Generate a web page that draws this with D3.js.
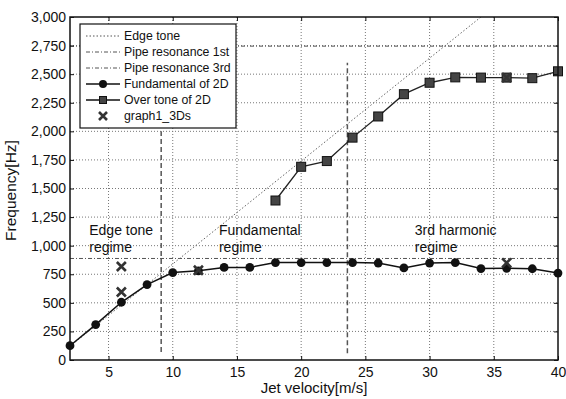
<!DOCTYPE html>
<html>
<head>
<meta charset="utf-8">
<script src="https://cdn.jsdelivr.net/npm/d3@7"></script>
<style>
  body { margin: 0; background: #fff; }
  svg text { font-family: "Liberation Sans", Arial, sans-serif; fill: #111; }
</style>
</head>
<body>
<div id="chart"></div>
<script>
// data
const velocity = [2, 4, 6, 8, 10, 12, 14, 16, 18, 20, 22, 24, 26, 28, 30, 32, 34, 36, 38, 40];
const fundamental = [125, 310, 505, 660, 765, 780, 810, 810, 852, 852, 852, 852, 848, 805, 848, 852, 800, 802, 798, 760];
const overVelocity = [18, 20, 22, 24, 26, 28, 30, 32, 34, 36, 38, 40];
const overtone = [1395, 1690, 1740, 1945, 2130, 2325, 2425, 2472, 2470, 2470, 2465, 2525];
const xVelocity = [6, 6, 12, 36, 36];
const xFreq = [818, 595, 785, 2470, 850];
const edgeVelocity = [2, 34];
const edgeFreq = [120, 3000];
const pipe1st = 888;
const pipe3rd = 2745;
const regimeBounds = [{v: 9.1, from: 70, to: 2000}, {v: 23.6, from: 60, to: 2600}];
const regimeLabels = [
  {v: 3.5, lines: ["Edge tone", "regime"]},
  {v: 13.6, lines: ["Fundamental", "regime"]},
  {v: 28.85, lines: ["3rd harmonic", "regime"]}
];
const xTicks = [5, 10, 15, 20, 25, 30, 35, 40];
const yTicks = d3.range(0, 3001, 250);
const legendItems = ["Edge tone", "Pipe resonance 1st", "Pipe resonance 3rd", "Fundamental of 2D", "Over tone of 2D", "graph1_3Ds"];

const W = 566, H = 399;
const margin = {top: 17, right: 8, bottom: 39, left: 70};

const svg = d3.select("#chart").append("svg")
    .attr("width", W)
    .attr("height", H);

const x = d3.scaleLinear().domain([2, 40]).range([margin.left, W - margin.right]);
const y = d3.scaleLinear().domain([0, 3000]).range([H - margin.bottom, margin.top]);
const line = d3.line().x(d => x(d[0])).y(d => y(d[1]));

// grid
svg.append("g").selectAll("line.gy")
    .data(yTicks.slice(1, -1))
    .enter().append("line")
    .attr("x1", x(2)).attr("x2", x(40))
    .attr("y1", d => y(d)).attr("y2", d => y(d))
    .attr("stroke", "#777").attr("stroke-width", 1)
    .attr("stroke-dasharray", "1,2");

svg.append("g").selectAll("line.gx")
    .data(xTicks.slice(0, -1))
    .enter().append("line")
    .attr("x1", d => x(d)).attr("x2", d => x(d))
    .attr("y1", y(0)).attr("y2", y(3000))
    .attr("stroke", "#777").attr("stroke-width", 1)
    .attr("stroke-dasharray", "1,2");

// pipe resonance lines
[pipe1st, pipe3rd].forEach(function (f) {
    svg.append("line")
        .attr("x1", x(2)).attr("x2", x(40))
        .attr("y1", y(f)).attr("y2", y(f))
        .attr("stroke", "#555").attr("stroke-width", 1)
        .attr("stroke-dasharray", "4,2,1,2");
});

// edge tone
svg.append("clipPath").attr("id", "plotclip").append("rect")
    .attr("x", x(2)).attr("y", y(3000))
    .attr("width", x(40) - x(2)).attr("height", y(0) - y(3000));

svg.append("path")
    .datum(edgeVelocity.map((v, i) => [v, edgeFreq[i]]))
    .attr("clip-path", "url(#plotclip)")
    .attr("fill", "none")
    .attr("stroke", "#666").attr("stroke-width", 1)
    .attr("stroke-dasharray", "1.5,2")
    .attr("d", line);

// regime boundaries
svg.append("g").selectAll("line")
    .data(regimeBounds)
    .enter().append("line")
    .attr("x1", d => x(d.v)).attr("x2", d => x(d.v))
    .attr("y1", d => y(d.from)).attr("y2", d => y(d.to))
    .attr("stroke", "#555").attr("stroke-width", 1.5)
    .attr("stroke-dasharray", "5,3");

// regime labels
regimeLabels.forEach(function (r) {
    const t = svg.append("text")
        .attr("x", x(r.v))
        .attr("y", 235)
        .style("font-size", "14px");
    r.lines.forEach(function (s, i) {
        t.append("tspan").attr("x", x(r.v)).attr("dy", i === 0 ? 0 : 17).text(s);
    });
});

// overtone series
const overData = overVelocity.map((v, i) => [v, overtone[i]]);
svg.append("path").datum(overData)
    .attr("fill", "none").attr("stroke", "#222").attr("stroke-width", 1.3)
    .attr("d", line);

// fundamental series
const fundData = velocity.map((v, i) => [v, fundamental[i]]);
svg.append("path").datum(fundData)
    .attr("fill", "none").attr("stroke", "#111").attr("stroke-width", 1.5)
    .attr("d", line);

svg.append("g").selectAll("rect")
    .data(overData)
    .enter().append("rect")
    .attr("x", d => x(d[0]) - 4.5).attr("y", d => y(d[1]) - 4.5)
    .attr("width", 9).attr("height", 9)
    .attr("fill", "#444").attr("stroke", "#111").attr("stroke-width", 1);

svg.append("g").selectAll("circle")
    .data(fundData)
    .enter().append("circle")
    .attr("cx", d => x(d[0])).attr("cy", d => y(d[1]))
    .attr("r", 4.4)
    .attr("fill", "#111");

// X markers
function cross(g, cx, cy, s) {
    g.append("path")
        .attr("d", "M" + (cx - s) + "," + (cy - s) + "L" + (cx + s) + "," + (cy + s) +
            "M" + (cx - s) + "," + (cy + s) + "L" + (cx + s) + "," + (cy - s))
        .attr("stroke", "#333").attr("stroke-width", 2.6).attr("fill", "none");
}
const xg = svg.append("g");
xVelocity.forEach(function (v, i) { cross(xg, x(v), y(xFreq[i]), 4.5); });

// frame and ticks
svg.append("rect")
    .attr("x", x(2)).attr("y", y(3000))
    .attr("width", x(40) - x(2)).attr("height", y(0) - y(3000))
    .attr("fill", "none").attr("stroke", "#111").attr("stroke-width", 1.5);

svg.append("g")
    .attr("transform", "translate(0," + y(0) + ")")
    .call(d3.axisBottom(x).tickValues(xTicks).tickSizeInner(-4).tickSizeOuter(0).tickPadding(7))
    .call(g => g.select(".domain").remove())
    .selectAll("text").style("font-size", "14px").attr("fill", "#111");

svg.append("g")
    .attr("transform", "translate(0," + y(3000) + ")")
    .call(d3.axisTop(x).tickValues(xTicks).tickSizeInner(-4).tickSizeOuter(0).tickFormat(""))
    .call(g => g.select(".domain").remove());

svg.append("g")
    .attr("transform", "translate(" + x(2) + ",0)")
    .call(d3.axisLeft(y).tickValues(yTicks).tickSizeInner(-4).tickSizeOuter(0).tickPadding(4)
        .tickFormat(d3.format(",")))
    .call(g => g.select(".domain").remove())
    .selectAll("text").style("font-size", "14px").attr("fill", "#111");

svg.append("g")
    .attr("transform", "translate(" + x(40) + ",0)")
    .call(d3.axisRight(y).tickValues(yTicks).tickSizeInner(-4).tickSizeOuter(0).tickFormat(""))
    .call(g => g.select(".domain").remove());

svg.selectAll(".tick line").attr("stroke", "#111");

// axis titles
svg.append("text")
    .attr("x", (x(2) + x(40)) / 2)
    .attr("y", 393)
    .attr("text-anchor", "middle")
    .style("font-size", "15px")
    .text("Jet velocity[m/s]");

svg.append("text")
    .attr("transform", "translate(16," + ((y(0) + y(3000)) / 2 + 2) + ") rotate(-90)")
    .attr("text-anchor", "middle")
    .style("font-size", "15.5px")
    .text("Frequency[Hz]");

// legend
const legend = svg.append("g").attr("transform", "translate(80,24)");
legend.append("rect")
    .attr("width", 156).attr("height", 104)
    .attr("fill", "#fff").attr("stroke", "#111").attr("stroke-width", 1.2);

const items = legend.selectAll("g.item")
    .data(legendItems)
    .enter().append("g")
    .attr("class", "item")
    .attr("transform", (d, i) => "translate(0," + (12 + i * 16) + ")");

items.each(function (d, i) {
    const g = d3.select(this);
    if (i < 3) {
        g.append("line").attr("x1", 6).attr("x2", 40).attr("y1", 0).attr("y2", 0)
            .attr("stroke", "#555").attr("stroke-width", 1)
            .attr("stroke-dasharray", i === 0 ? "1.5,2" : "4,2,1,2");
    } else if (i < 5) {
        g.append("line").attr("x1", 6).attr("x2", 40).attr("y1", 0).attr("y2", 0)
            .attr("stroke", "#111").attr("stroke-width", 1.5);
        if (i === 3) {
            g.append("circle").attr("cx", 23).attr("cy", 0).attr("r", 4).attr("fill", "#111");
        } else {
            g.append("rect").attr("x", 19.5).attr("y", -3.5).attr("width", 7).attr("height", 7)
                .attr("fill", "#444").attr("stroke", "#111");
        }
    } else {
        cross(g, 23, 0, 4);
    }
    g.append("text").attr("x", 44).attr("y", 0).attr("dy", "0.35em")
        .style("font-size", "12.3px").text(d);
});
</script>
</body>
</html>
